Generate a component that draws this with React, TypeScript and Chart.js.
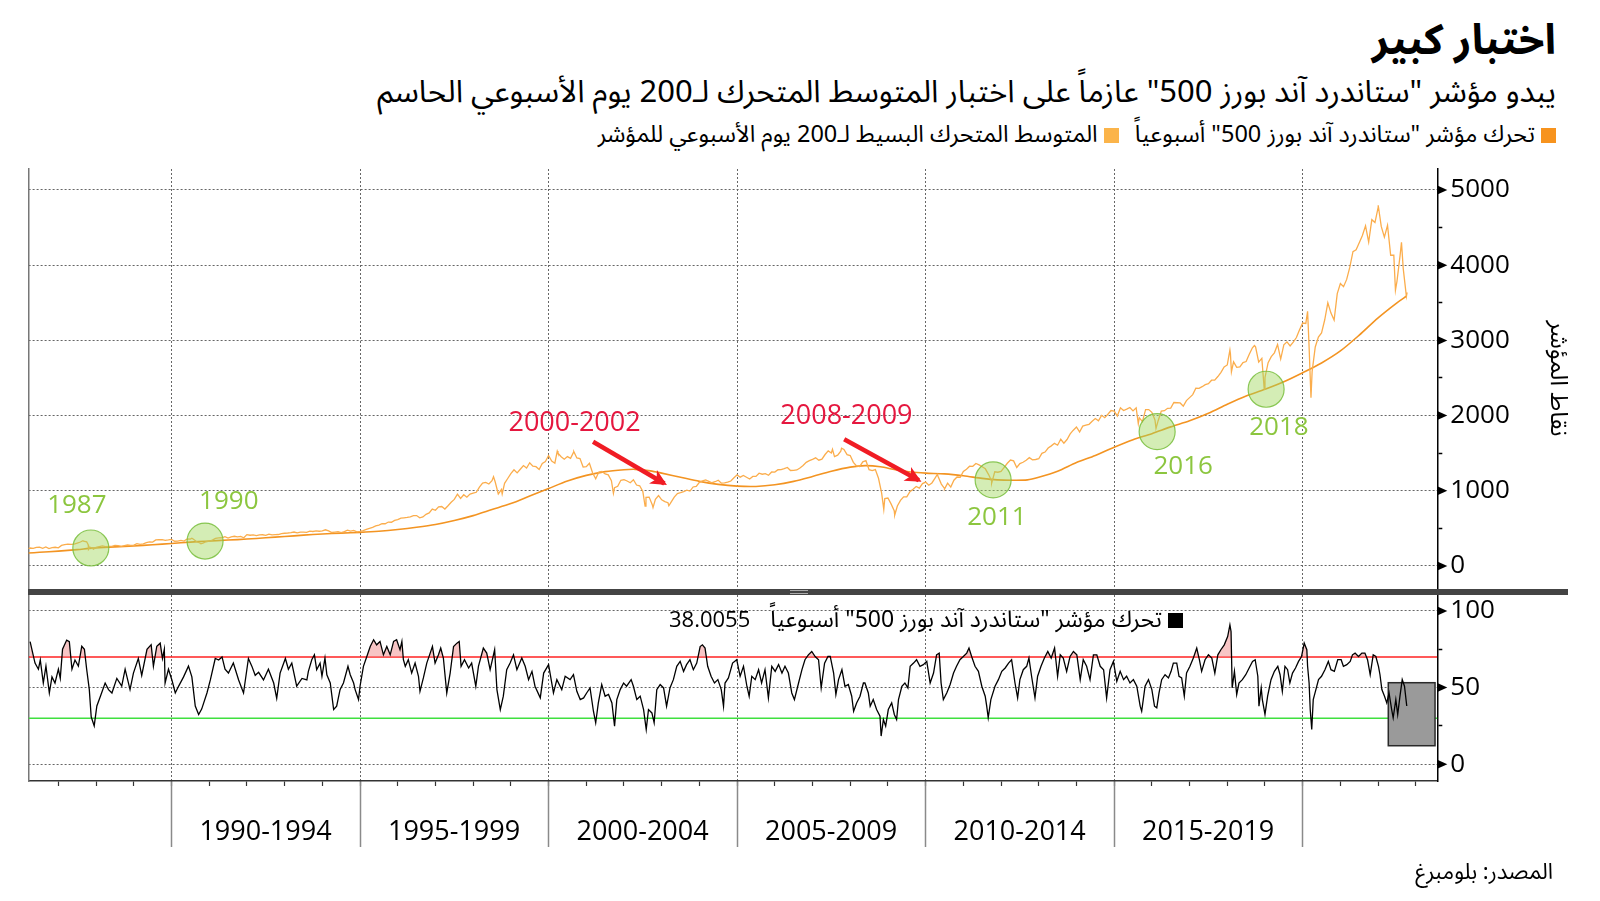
import React, { useEffect, useRef } from 'react';
import { Chart, registerables } from 'chart.js';

Chart.register(...registerables);

// ---------- axes ----------
const X_MIN = 1986.21;
const X_MAX = 2023.57;
const FIVE_YEAR_TICKS = [1990, 1995, 2000, 2005, 2010, 2015, 2020];
const YEAR_TICKS = [1987, 1988, 1989, 1990, 1991, 1992, 1993, 1994, 1995, 1996, 1997, 1998, 1999, 2000, 2001, 2002, 2003, 2004, 2005, 2006, 2007, 2008, 2009, 2010, 2011, 2012, 2013, 2014, 2015, 2016, 2017, 2018, 2019, 2020, 2021, 2022, 2023];
const PERIOD_LABELS = ['1990-1994', '1995-1999', '2000-2004', '2005-2009', '2010-2014', '2015-2019', ''];
const PRICE_TICKS = [0, 500, 1000, 1500, 2000, 2500, 3000, 3500, 4000, 4500, 5000];
const PRICE_LABELED = [0, 1000, 2000, 3000, 4000, 5000];
const PRICE_MIN = -292.6;
const PRICE_MAX = 5279;
const RSI_TICKS = [0, 25, 50, 75, 100];
const RSI_LABELED = [0, 50, 100];
const RSI_MIN = -10.9;
const RSI_MAX = 110.4;
const OVERBOUGHT = 70;
const OVERSOLD = 30;
const RSI_LAST = '38.0055';

// ---------- S&P 500 monthly closes ----------
const spx1980sStart = 1986 + 2 / 12; // end of Feb 1986
const spx1980s = [226.9, 238.9, 235.5, 247.4, 250.8, 236.1, 252.9, 231.3, 244.0, 249.2, 242.2,
  274.1, 284.2, 291.7, 288.4, 290.1, 304.0, 318.7, 329.8, 321.8, 251.8, 230.3, 247.1,
  257.1, 267.8, 258.9, 261.3, 262.2, 273.5, 272.0, 261.5, 271.9, 279.0, 273.7, 277.7,
  297.5, 288.9, 294.9, 309.6, 320.5, 318.0, 346.1, 351.5, 349.2, 340.4, 346.0, 353.4];
const spx1990sStart = 1990 + 1 / 12;
const spx1990s = [329.1, 331.9, 339.9, 330.8, 361.2, 358.0, 356.2, 322.6, 306.1, 304.0, 322.2, 330.2,
  343.9, 367.1, 375.2, 375.3, 389.8, 371.2, 387.8, 395.4, 387.9, 392.5, 375.2, 417.1,
  408.8, 412.7, 403.7, 415.0, 415.4, 408.1, 424.2, 414.0, 417.8, 418.7, 431.4, 435.7,
  438.8, 443.4, 451.7, 440.2, 450.2, 450.5, 448.1, 463.6, 458.9, 467.8, 461.8, 466.5,
  481.6, 467.1, 445.8, 450.9, 456.5, 444.3, 458.3, 475.5, 462.7, 472.4, 453.7, 459.3,
  470.4, 487.4, 500.7, 514.7, 533.4, 544.8, 562.1, 561.9, 584.4, 581.5, 605.4, 615.9,
  636.0, 640.4, 645.5, 654.2, 669.1, 670.6, 640.0, 652.0, 687.3, 705.3, 757.0, 740.7,
  786.2, 790.8, 757.1, 801.3, 848.3, 885.1, 954.3, 899.5, 947.3, 914.6, 955.4, 970.4,
  980.3, 1049.3, 1101.8, 1111.8, 1090.8, 1133.8, 1120.7, 957.3, 1017.0, 1098.7, 1163.6, 1229.2,
  1279.6, 1238.3, 1286.4, 1335.2, 1301.8, 1372.7, 1328.7, 1320.4, 1282.7, 1362.9, 1389.0, 1469.3];
const spx2000sStart = 2000 + 1 / 12;
const spx2000s = [1394.5, 1366.4, 1498.6, 1452.4, 1420.6, 1454.6, 1430.8, 1517.7, 1436.5, 1429.4, 1315.2, 1320.3,
  1366.0, 1239.9, 1160.3, 1249.5, 1255.8, 1224.4, 1211.2, 1133.6, 1040.9, 1059.8, 1139.5, 1148.1,
  1130.2, 1106.7, 1147.4, 1076.9, 1067.1, 989.8, 911.6, 916.1, 815.3, 885.8, 936.3, 879.8,
  855.7, 841.2, 848.2, 916.9, 963.6, 974.5, 990.3, 1008.0, 996.0, 1050.7, 1058.2, 1111.9,
  1131.1, 1144.9, 1126.2, 1107.3, 1120.7, 1140.8, 1101.7, 1104.2, 1114.6, 1130.2, 1173.8, 1211.9,
  1181.3, 1203.6, 1180.6, 1156.9, 1191.5, 1191.3, 1234.2, 1220.3, 1228.8, 1207.0, 1249.5, 1248.3,
  1280.1, 1280.7, 1294.9, 1310.6, 1270.1, 1270.2, 1276.7, 1303.8, 1335.9, 1377.9, 1400.6, 1418.3,
  1438.2, 1406.8, 1420.9, 1482.4, 1530.6, 1503.3, 1455.3, 1474.0, 1526.8, 1549.4, 1481.1, 1468.4,
  1378.6, 1330.6, 1322.7, 1385.6, 1400.4, 1280.0, 1267.4, 1282.8, 1166.4, 968.8, 896.2, 903.3,
  825.9, 735.1, 797.9, 872.8, 919.1, 919.3, 987.5, 1020.6, 1057.1, 1036.2, 1095.6, 1115.1];
const spx2010sStart = 2010 + 1 / 12;
const spx2010s = [1073.9, 1104.5, 1169.4, 1186.7, 1089.4, 1030.7, 1101.6, 1049.3, 1141.2, 1183.3, 1180.6, 1257.6,
  1286.1, 1327.2, 1325.8, 1363.6, 1345.2, 1320.6, 1292.3, 1218.9, 1131.4, 1253.3, 1246.9, 1257.6,
  1312.4, 1365.7, 1408.5, 1397.9, 1310.3, 1362.2, 1379.3, 1406.6, 1440.7, 1412.2, 1416.2, 1426.2,
  1498.1, 1514.7, 1569.2, 1597.6, 1630.7, 1606.3, 1685.7, 1633.0, 1681.6, 1756.5, 1805.8, 1848.4,
  1782.6, 1859.5, 1872.3, 1884.0, 1923.6, 1960.2, 1930.7, 2003.4, 1972.3, 2018.1, 2067.6, 2058.9,
  1995.0, 2104.5, 2067.9, 2085.5, 2107.4, 2063.1, 2103.8, 1972.2, 1920.0, 2079.4, 2080.4, 2043.9,
  1940.2, 1932.2, 2059.7, 2065.3, 2097.0, 2098.9, 2173.6, 2171.0, 2168.3, 2126.2, 2198.8, 2238.8,
  2278.9, 2363.6, 2362.7, 2384.2, 2411.8, 2423.4, 2470.3, 2471.7, 2519.4, 2575.3, 2647.6, 2673.6,
  2823.8, 2713.8, 2640.9, 2648.1, 2705.3, 2718.4, 2816.3, 2901.5, 2914.0, 2711.7, 2760.2, 2506.9,
  2704.1, 2784.5, 2834.4, 2945.8, 2752.1, 2941.8, 2980.4, 2926.5, 2976.7, 3037.6, 3141.0, 3230.8];
const spx2020sStart = 2020 + 1 / 12;
const spx2020s = [3225.5, 2954.2, 2584.6, 2912.4, 3044.3, 3100.3, 3271.1, 3500.3, 3363.0, 3270.0, 3621.6, 3756.1,
  3714.2, 3811.2, 3972.9, 4181.2, 4204.1, 4297.5, 4395.3, 4522.7, 4307.5, 4605.4, 4567.0, 4766.2,
  4515.6, 4373.9, 4530.4, 4131.9, 4132.2, 3785.4, 4130.3, 3955.0, 3585.6];
// weekly highs/lows between month ends [year, value]
const spxExtremes: [number, number][] = [[1987.65, 336.8], [1987.79, 282.7], [1987.80, 224.8], [1987.93, 223.9],
  [1990.54, 368.9], [1990.78, 295.5], [1998.54, 1186.8], [1998.77, 959.4], [2000.23, 1527.5], [2000.67, 1520.8],
  [2001.72, 965.8], [2002.56, 797.7], [2002.77, 776.8], [2003.19, 800.7], [2007.53, 1552.5], [2007.77, 1565.2],
  [2008.89, 752.4], [2009.18, 676.5], [2010.31, 1217.3], [2010.50, 1022.6], [2011.75, 1099.2], [2015.64, 1893.2],
  [2016.11, 1829.1], [2018.07, 2872.9], [2018.11, 2581.0], [2018.72, 2930.8], [2018.98, 2351.1], [2020.13, 3386.2],
  [2020.22, 2237.4], [2022.003, 4796.6], [2022.46, 3666.8], [2022.62, 4305.2], [2022.77, 3639.7]];

// ---------- 200-week moving average ----------
const maYears = [1986.2, 1986.5, 1987.0, 1987.5, 1987.9, 1988.5, 1989.0, 1989.5, 1990.0, 1990.5, 1990.9, 1991.5, 1992.0, 1992.5, 1993.0, 1993.5, 1994.0, 1994.5, 1995.0, 1995.5, 1996.0, 1996.5, 1997.0, 1997.5, 1998.0, 1998.5, 1999.0, 1999.5, 2000.0, 2000.5, 2001.0, 2001.5, 2002.0, 2002.3, 2002.7, 2003.0, 2003.5, 2004.0, 2004.5, 2005.0, 2005.5, 2006.0, 2006.5, 2007.0, 2007.5, 2008.0, 2008.4, 2008.8, 2009.2, 2009.6, 2010.0, 2010.5, 2011.0, 2011.5, 2011.9, 2012.3, 2012.7, 2013.0, 2013.5, 2014.0, 2014.5, 2015.0, 2015.5, 2016.0, 2016.5, 2017.0, 2017.5, 2018.0, 2018.5, 2019.0, 2019.5, 2020.0, 2020.5, 2021.0, 2021.5, 2022.0, 2022.5, 2022.76];
const maValues = [172, 182, 198, 218, 238, 254, 266, 282, 300, 318, 330, 345, 358, 375, 392, 410, 425, 437, 447, 462, 485, 515, 552, 605, 670, 750, 830, 930, 1030, 1130, 1205, 1255, 1280, 1285, 1265, 1235, 1180, 1125, 1085, 1062, 1058, 1080, 1125, 1190, 1260, 1315, 1335, 1320, 1280, 1250, 1235, 1225, 1200, 1165, 1145, 1140, 1145, 1180, 1260, 1375, 1470, 1580, 1680, 1760, 1850, 1930, 2030, 2150, 2260, 2350, 2450, 2570, 2700, 2860, 3070, 3300, 3500, 3590];

// ---------- tests of the average (green circles) ----------
const testYears = [1987.86, 1990.89, 2011.79, 2016.14, 2019.03];
const testValues = [239, 332, 1144, 1786, 2350];
const testLabels = ['1987', '1990', '2011', '2016', '2018'];

// ---------- weekly RSI [year, value] ----------
const rsi1986: [number, number][] = [[1986.25, 80], [1986.38, 66], [1986.47, 62], [1986.52, 68], [1986.60, 53], [1986.67, 64], [1986.76, 46.5], [1986.83, 57], [1986.91, 53], [1987.00, 62], [1987.05, 56], [1987.11, 75], [1987.22, 81], [1987.29, 80], [1987.36, 62], [1987.44, 68], [1987.53, 64], [1987.62, 77], [1987.69, 75], [1987.75, 62], [1987.82, 48.7], [1987.87, 31], [1987.95, 25], [1988.02, 38], [1988.11, 44], [1988.24, 53], [1988.33, 48.7], [1988.42, 46.5], [1988.55, 56], [1988.68, 51], [1988.77, 62], [1988.90, 48.7], [1988.99, 59.5], [1989.12, 69], [1989.21, 58], [1989.35, 75], [1989.46, 78], [1989.52, 64], [1989.61, 77], [1989.70, 79], [1989.76, 69], [1989.81, 75], [1989.83, 53], [1989.92, 62], [1990.01, 55], [1990.10, 46.5], [1990.19, 51], [1990.32, 57], [1990.45, 64], [1990.54, 57], [1990.63, 38], [1990.72, 32.5], [1990.80, 36], [1990.94, 46.5], [1991.03, 55], [1991.16, 69], [1991.25, 68], [1991.34, 70], [1991.42, 62], [1991.51, 59.5], [1991.64, 66], [1991.78, 55], [1991.91, 46.5], [1992.04, 69], [1992.13, 64], [1992.22, 58], [1992.31, 60], [1992.44, 55], [1992.57, 62], [1992.71, 53], [1992.79, 43], [1992.88, 59.5], [1993.02, 69], [1993.10, 62], [1993.19, 66], [1993.32, 51], [1993.46, 56], [1993.59, 55]];
const rsi1993: [number, number][] = [[1993.63, 60.6], [1993.72, 68.2], [1993.79, 71.4], [1993.85, 61.7], [1993.94, 66], [1993.99, 57.4], [1994.07, 69.3], [1994.12, 58.4], [1994.21, 53], [1994.30, 35.7], [1994.38, 37.9], [1994.47, 48.7], [1994.56, 53], [1994.68, 63.9], [1994.74, 58.4], [1994.83, 53], [1994.87, 48.7], [1994.96, 42.2], [1995.00, 50.9], [1995.09, 63.9], [1995.18, 70.3], [1995.27, 76.8], [1995.36, 81.2], [1995.44, 77.9], [1995.53, 80.1], [1995.62, 71.4], [1995.71, 76.8], [1995.80, 71.4], [1995.89, 80.1], [1995.97, 81.2], [1996.06, 74.7], [1996.11, 80.1], [1996.15, 68.2], [1996.20, 63.9], [1996.28, 68.2], [1996.37, 59.5], [1996.46, 66], [1996.55, 57.4], [1996.59, 47.6], [1996.68, 56.3], [1996.77, 66], [1996.86, 72.5], [1996.92, 76.8], [1996.99, 66], [1997.08, 71.4], [1997.14, 75.8], [1997.21, 69.3], [1997.30, 46.5], [1997.39, 59.5], [1997.48, 76.8], [1997.57, 79], [1997.63, 80.1], [1997.68, 63.9], [1997.77, 68.2], [1997.88, 62.8], [1997.96, 66], [1998.07, 50.9], [1998.14, 63.9], [1998.27, 75.8], [1998.36, 72.5], [1998.45, 61.7], [1998.57, 74.7], [1998.63, 48.7], [1998.72, 35.7], [1998.80, 44.4], [1998.89, 61.7], [1998.98, 66], [1999.07, 71.4], [1999.16, 61.7], [1999.29, 69.3], [1999.38, 63.9], [1999.47, 55.2], [1999.56, 60.6], [1999.64, 50.9], [1999.78, 43.3], [1999.87, 59.5], [2000.00, 65], [2000.13, 46.5], [2000.22, 55.2], [2000.35, 48.7], [2000.44, 57.4], [2000.57, 55.2], [2000.66, 58.4], [2000.75, 47.6], [2000.84, 42.2], [2000.93, 43.3]];
const rsi2001: [number, number][] = [[2001.01, 46.5], [2001.10, 49.8], [2001.19, 34.6], [2001.25, 27.1], [2001.32, 40], [2001.41, 52], [2001.50, 44.4], [2001.59, 45.5], [2001.68, 40], [2001.75, 24.9], [2001.81, 42.2], [2001.90, 48.7], [2001.99, 53], [2002.07, 50.9], [2002.19, 55.2], [2002.25, 50.9], [2002.34, 42.2], [2002.43, 44.4], [2002.52, 35.7], [2002.59, 22.7], [2002.65, 35.7], [2002.74, 33.5], [2002.80, 27.1], [2002.87, 48.7], [2002.96, 52], [2003.05, 49.8], [2003.13, 37.9], [2003.22, 49.8], [2003.31, 55.2], [2003.40, 63.9], [2003.49, 67.1], [2003.58, 60.6], [2003.66, 65], [2003.75, 68.2], [2003.84, 61.7], [2003.93, 66], [2004.02, 76.8], [2004.08, 77.9], [2004.15, 75.8], [2004.22, 63.9], [2004.31, 57.4], [2004.40, 53], [2004.49, 55.2], [2004.58, 48.7], [2004.64, 37.9], [2004.68, 53], [2004.77, 56.3], [2004.88, 66], [2004.99, 68.2], [2005.08, 57.4], [2005.17, 63.9], [2005.26, 50.9], [2005.32, 44.4], [2005.39, 57.4], [2005.48, 55.2], [2005.57, 61.7], [2005.65, 53], [2005.74, 61.7], [2005.83, 43.3], [2005.92, 63.9], [2006.01, 60.6], [2006.10, 65], [2006.19, 59.5], [2006.27, 63.9], [2006.36, 59.5], [2006.45, 46.5], [2006.52, 42.2], [2006.63, 53], [2006.72, 61.7], [2006.80, 68.2], [2006.89, 71.4], [2006.98, 73.6], [2007.07, 70.3], [2007.16, 68.2], [2007.23, 49.8], [2007.32, 66], [2007.41, 70.3], [2007.47, 70.3], [2007.56, 59.5], [2007.62, 45.5], [2007.69, 55.2], [2007.78, 61.7], [2007.86, 50.9], [2007.95, 52], [2008.04, 44.4], [2008.09, 34.6], [2008.17, 40], [2008.26, 44.4], [2008.35, 53]];
const rsi2008: [number, number][] = [[2008.39, 53], [2008.48, 46.5], [2008.53, 37.9], [2008.61, 42.2], [2008.70, 35.7], [2008.79, 31.4], [2008.82, 18.4], [2008.88, 29.2], [2008.94, 24.9], [2009.01, 35.7], [2009.10, 40], [2009.17, 32.5], [2009.23, 29.2], [2009.28, 42.2], [2009.37, 50.9], [2009.45, 53], [2009.53, 49.8], [2009.59, 63.9], [2009.68, 66], [2009.76, 68.2], [2009.85, 63.9], [2009.94, 65], [2010.03, 67.1], [2010.12, 53], [2010.21, 59.5], [2010.29, 71.4], [2010.36, 72.5], [2010.41, 53], [2010.47, 42.2], [2010.56, 46.5], [2010.65, 52], [2010.74, 59.5], [2010.82, 63.9], [2010.91, 68.2], [2011.00, 70.3], [2011.09, 72.5], [2011.15, 75.8], [2011.22, 70.3], [2011.31, 63.9], [2011.40, 60.6], [2011.49, 50.9], [2011.58, 44.4], [2011.62, 37.9], [2011.66, 30.3], [2011.73, 42.2], [2011.84, 50.9], [2011.93, 55.2], [2012.02, 60.6], [2012.11, 62.8], [2012.20, 66], [2012.28, 68.2], [2012.37, 53], [2012.44, 43.3], [2012.50, 55.2], [2012.59, 61.7], [2012.68, 63.9], [2012.74, 69.3], [2012.81, 57.4], [2012.90, 43.3], [2012.97, 57.4], [2013.06, 63.9], [2013.15, 69.3], [2013.24, 73.6], [2013.33, 69.3], [2013.42, 75.8], [2013.50, 57.4], [2013.57, 71.4], [2013.65, 69.3], [2013.74, 60.6], [2013.83, 70.3], [2013.92, 73.6], [2014.01, 71.4], [2014.10, 55.2], [2014.18, 68.2], [2014.27, 63.9], [2014.36, 55.2], [2014.45, 71.4], [2014.54, 71.4], [2014.63, 63.9], [2014.72, 61.7], [2014.80, 43.3], [2014.89, 61.7], [2014.98, 67.1], [2015.07, 54.1], [2015.16, 60.6], [2015.25, 55.2], [2015.33, 57.4], [2015.42, 53], [2015.51, 55.2], [2015.60, 50.9], [2015.69, 37.9], [2015.73, 34.6], [2015.82, 50.9]];
const rsi2015: [number, number][] = [[2015.91, 55.2], [2016.00, 48.7], [2016.07, 37.9], [2016.13, 36.8], [2016.19, 46.5], [2016.26, 55.2], [2016.35, 58.4], [2016.44, 56.3], [2016.51, 60.6], [2016.57, 66], [2016.66, 66], [2016.72, 57.4], [2016.79, 56.3], [2016.86, 44.4], [2016.92, 59.5], [2017.01, 63.9], [2017.10, 69.3], [2017.19, 75.8], [2017.26, 68.2], [2017.32, 60.6], [2017.41, 68.2], [2017.50, 71.4], [2017.59, 69.3], [2017.67, 59.5], [2017.75, 71.4], [2017.83, 74.7], [2017.92, 77.9], [2018.01, 83.3], [2018.07, 90.9], [2018.10, 86.6], [2018.13, 49.8], [2018.19, 60.6], [2018.25, 45.5], [2018.31, 53], [2018.40, 55.2], [2018.49, 58.4], [2018.58, 62.8], [2018.67, 67.1], [2018.74, 68.2], [2018.81, 57.4], [2018.84, 37.9], [2018.90, 49.8], [2018.93, 42.2], [2019.00, 32.5], [2019.07, 44.4], [2019.16, 55.2], [2019.25, 60.6], [2019.34, 63.9], [2019.40, 58.4], [2019.46, 47.6], [2019.53, 63.9], [2019.60, 61.7], [2019.66, 53], [2019.73, 59.5], [2019.81, 62.8], [2019.89, 67.1], [2019.97, 70.3], [2020.04, 79], [2020.11, 74.7], [2020.13, 63.9], [2020.17, 53], [2020.20, 35.7], [2020.24, 22.7], [2020.28, 42.2], [2020.35, 48.7], [2020.42, 55.2], [2020.50, 57.4], [2020.59, 61.7], [2020.68, 67.1], [2020.75, 61.7], [2020.84, 60.6], [2020.93, 68.2], [2021.02, 68.2], [2021.08, 63.9], [2021.17, 65], [2021.26, 67.1], [2021.32, 71.4], [2021.39, 72.5], [2021.48, 70.3], [2021.57, 72.5], [2021.65, 72.5], [2021.72, 68.2], [2021.79, 58.4], [2021.87, 71.4], [2021.94, 70.3], [2022.01, 63.9], [2022.05, 58.4], [2022.10, 48.7], [2022.17, 44.4], [2022.23, 40], [2022.29, 46.5], [2022.36, 35.7], [2022.40, 30.3], [2022.47, 42.2], [2022.52, 32.5], [2022.58, 44.4], [2022.64, 55.2], [2022.70, 50.9], [2022.76, 38.0]];

// grey highlight box in RSI panel (years, RSI values)
const boxYears = [2022.27, 2023.51];
const boxValues = [12.1, 53.2];

// ---------- annotations (data coordinates) ----------
const yearLabelPos: [number, number][] = [[1987.49, 800], [1991.52, 855], [2011.89, 645], [2016.83, 1320], [2019.37, 1842]];
const periodNotes = [
  { text: '2000-2002', at: [2000.69, 1895], from: [2001.18, 1653], to: [2003.14, 1077] },
  { text: '2008-2009', at: [2007.90, 1985], from: [2007.84, 1685], to: [2009.89, 1121] },
];

const monthly = (start: number, vals: number[]) => vals.map((v, i) => ({ x: start + i / 12, y: v }));
const pairs = (arr: [number, number][]) => arr.map(([x, y]) => ({ x, y }));

const FONT_NUM = '"Open Sans", "DejaVu Sans", sans-serif';
const FONT_AR = '"Noto Sans Arabic", "DejaVu Sans", sans-serif';

const tickArrows = {
  id: 'tickArrows',
  afterDraw(chart: any, _a: any, opts: any) {
    const s = chart.scales.y;
    const ctx = chart.ctx;
    ctx.save();
    ctx.fillStyle = '#000';
    for (const v of opts.values || []) {
      const py = s.getPixelForValue(v);
      ctx.beginPath();
      ctx.moveTo(s.left, py - 4.5);
      ctx.lineTo(s.left + 10, py);
      ctx.lineTo(s.left, py + 4.5);
      ctx.closePath();
      ctx.fill();
    }
    ctx.restore();
  },
};

const notesPlugin = {
  id: 'notes',
  afterDatasetsDraw(chart: any) {
    const { ctx } = chart;
    const x = chart.scales.x;
    const y = chart.scales.y;
    ctx.save();
    ctx.textAlign = 'center';
    ctx.textBaseline = 'middle';
    ctx.font = `26px ${FONT_NUM}`;
    ctx.fillStyle = '#8cc63f';
    testLabels.forEach((t, i) => {
      ctx.fillText(t, x.getPixelForValue(yearLabelPos[i][0]), y.getPixelForValue(yearLabelPos[i][1]));
    });
    ctx.font = `27px ${FONT_NUM}`;
    for (const n of periodNotes) {
      ctx.fillStyle = '#e5173f';
      ctx.fillText(n.text, x.getPixelForValue(n.at[0]), y.getPixelForValue(n.at[1]));
      const x1 = x.getPixelForValue(n.from[0]);
      const y1 = y.getPixelForValue(n.from[1]);
      const x2 = x.getPixelForValue(n.to[0]);
      const y2 = y.getPixelForValue(n.to[1]);
      const ang = Math.atan2(y2 - y1, x2 - x1);
      ctx.strokeStyle = '#f01c24';
      ctx.lineWidth = 4.5;
      ctx.lineCap = 'butt';
      ctx.beginPath();
      ctx.moveTo(x1, y1);
      ctx.lineTo(x2 - 3 * Math.cos(ang), y2 - 3 * Math.sin(ang));
      ctx.stroke();
      ctx.fillStyle = '#f01c24';
      ctx.beginPath();
      ctx.moveTo(x2, y2);
      ctx.lineTo(x2 - 18 * Math.cos(ang - 0.45), y2 - 18 * Math.sin(ang - 0.45));
      ctx.lineTo(x2 - 12 * Math.cos(ang), y2 - 12 * Math.sin(ang));
      ctx.lineTo(x2 - 18 * Math.cos(ang + 0.45), y2 - 18 * Math.sin(ang + 0.45));
      ctx.closePath();
      ctx.fill();
    }
    ctx.restore();
  },
};

const boxPlugin = {
  id: 'highlightBox',
  beforeDatasetDraw(chart: any, args: any) {
    if (args.index !== 0) return;
    const { ctx } = chart;
    const x = chart.scales.x;
    const y = chart.scales.y;
    const l = x.getPixelForValue(boxYears[0]);
    const r = x.getPixelForValue(boxYears[1]);
    const t = y.getPixelForValue(boxValues[1]);
    const b = y.getPixelForValue(boxValues[0]);
    ctx.save();
    ctx.fillStyle = '#9a9a9a';
    ctx.fillRect(l, t, r - l, b - t);
    ctx.strokeStyle = '#2a2a2a';
    ctx.lineWidth = 1.5;
    ctx.strokeRect(l, t, r - l, b - t);
    ctx.restore();
  },
};

const noPad = (s: any) => { s.paddingTop = 0; s.paddingBottom = 0; s.paddingLeft = 0; s.paddingRight = 0; };
const DOT = [2, 2];

function rightAxis(ticks: number[], labeled: number[], min: number, max: number, title?: string) {
  return {
    position: 'right',
    min, max,
    afterBuildTicks: (s: any) => { s.ticks = ticks.map((v) => ({ value: v })); },
    ticks: {
      callback: (v: any) => (labeled.includes(v) ? String(v) : ''),
      font: { family: FONT_NUM, size: 26 },
      color: '#000',
      padding: 8,
    },
    grid: {
      color: (c: any) => (c.tick && labeled.includes(c.tick.value) ? '#666' : 'rgba(0,0,0,0)'),
      tickColor: '#000',
      tickLength: 5,
      tickWidth: 1.5,
      lineWidth: 1,
      borderDash: DOT,
    },
    border: { display: true, color: '#000', width: 1.5, dash: DOT },
    title: title
      ? { display: true, text: title, font: { family: FONT_AR, size: 24 }, color: '#000' }
      : { display: false },
    afterFit: (s: any) => { s.width = 136; noPad(s); },
  };
}

const leftAxis = {
  position: 'left',
  afterFit: (s: any) => { s.width = 0; noPad(s); },
  ticks: { display: false },
  grid: { display: false },
  border: { display: true, color: '#777', width: 1.5 },
};

const AX = { xAxisID: 'x', yAxisID: 'y' };

function TopChart() {
  const ref = useRef<HTMLCanvasElement>(null);
  useEffect(() => {
    const spx = [
      ...monthly(spx1980sStart, spx1980s),
      ...monthly(spx1990sStart, spx1990s),
      ...monthly(spx2000sStart, spx2000s),
      ...monthly(spx2010sStart, spx2010s),
      ...monthly(spx2020sStart, spx2020s),
      ...pairs(spxExtremes),
    ].sort((a, b) => a.x - b.x);
    const ma = maYears.map((x, i) => ({ x, y: maValues[i] }));
    const circles = testYears.map((x, i) => ({ x, y: testValues[i] }));
    const chart = new Chart(ref.current!, {
      type: 'line',
      data: {
        datasets: [
          { ...AX, data: circles, showLine: false, pointRadius: 18, pointHoverRadius: 18, pointBackgroundColor: 'rgba(160,215,90,0.45)', pointBorderColor: 'rgba(120,190,60,0.85)', pointBorderWidth: 1.2, order: 0 } as any,
          { ...AX, data: spx, borderColor: '#fbad4c', borderWidth: 1.3, pointRadius: 0, tension: 0, order: 1 },
          { ...AX, data: ma, borderColor: '#f39422', borderWidth: 1.6, pointRadius: 0, tension: 0.3, order: 2 },
        ],
      },
      options: {
        animation: false,
        responsive: false,
        events: [],
        layout: { autoPadding: false, padding: { left: 28.6, right: 26.7, top: 19, bottom: 12 } },
        plugins: { legend: { display: false }, tooltip: { enabled: false }, tickArrows: { values: PRICE_LABELED } } as any,
        scales: {
          x: {
            type: 'linear', min: X_MIN, max: X_MAX, position: 'bottom',
            afterBuildTicks: (s: any) => { s.ticks = FIVE_YEAR_TICKS.map((v) => ({ value: v })); },
            ticks: { display: false },
            grid: { color: '#666', lineWidth: 1, drawTicks: false, borderDash: DOT },
            border: { display: false, dash: DOT },
            afterFit: (s: any) => { s.height = 0; noPad(s); },
          },
          y: rightAxis(PRICE_TICKS, PRICE_LABELED, PRICE_MIN, PRICE_MAX, 'نقاط المؤشر'),
          yL: leftAxis,
        } as any,
      },
      plugins: [tickArrows, notesPlugin],
    });
    return () => chart.destroy();
  }, []);
  return <canvas ref={ref} width={1600} height={450} style={{ position: 'absolute', left: 0, top: 150, width: 1600, height: 450 }} />;
}

function RsiChart() {
  const ref = useRef<HTMLCanvasElement>(null);
  useEffect(() => {
    const rsi = [...pairs(rsi1986), ...pairs(rsi1993), ...pairs(rsi2001), ...pairs(rsi2008), ...pairs(rsi2015)];
    const chart = new Chart(ref.current!, {
      type: 'line',
      data: {
        datasets: [
          {
            ...AX, data: rsi, borderColor: '#000', borderWidth: 1.3, pointRadius: 0, tension: 0, order: 0,
            fill: { target: { value: OVERBOUGHT }, above: 'rgba(240,140,140,0.5)', below: 'rgba(0,0,0,0)' },
          } as any,
          { ...AX, data: [{ x: X_MIN, y: OVERBOUGHT }, { x: X_MAX, y: OVERBOUGHT }], borderColor: '#f22', borderWidth: 1.5, pointRadius: 0, order: 1 },
          { ...AX, data: [{ x: X_MIN, y: OVERSOLD }, { x: X_MAX, y: OVERSOLD }], borderColor: '#3fe03f', borderWidth: 1.5, pointRadius: 0, order: 1 },
        ],
      },
      options: {
        animation: false,
        responsive: false,
        events: [],
        layout: { autoPadding: false, padding: { left: 28.6, right: 26.7, top: 5, bottom: 50 } },
        plugins: { legend: { display: false }, tooltip: { enabled: false }, tickArrows: { values: RSI_LABELED } } as any,
        scales: {
          x: {
            type: 'linear', min: X_MIN, max: X_MAX, position: 'bottom', weight: 0,
            afterBuildTicks: (s: any) => { s.ticks = YEAR_TICKS.map((v) => ({ value: v })); },
            ticks: { display: false },
            grid: {
              color: (c: any) => (c.tick && c.tick.value % 5 === 0 ? '#666' : 'rgba(0,0,0,0)'),
              lineWidth: 1, drawTicks: true, tickLength: 5, tickColor: '#333', tickWidth: 1.2, borderDash: DOT,
            },
            border: { display: true, color: '#333', width: 1.5, dash: DOT },
            afterFit: (s: any) => { s.height = 0; noPad(s); },
          },
          xSep: {
            type: 'linear', min: X_MIN, max: X_MAX, position: 'bottom', weight: 1,
            afterBuildTicks: (s: any) => { s.ticks = FIVE_YEAR_TICKS.map((v) => ({ value: v })); },
            ticks: {
              autoSkip: false, maxRotation: 0,
              callback: (v: any) => PERIOD_LABELS[FIVE_YEAR_TICKS.indexOf(v)] || '',
              labelOffset: 94, padding: -31,
              font: { family: FONT_NUM, size: 27 }, color: '#000',
            },
            grid: { drawOnChartArea: false, tickLength: 66, tickColor: '#8a8a8a', tickWidth: 1.5, color: 'rgba(0,0,0,0)' },
            border: { display: false },
            afterFit: (s: any) => { s.height = 70; noPad(s); },
          },
          y: rightAxis(RSI_TICKS, RSI_LABELED, RSI_MIN, RSI_MAX),
          yL: leftAxis,
        } as any,
      },
      plugins: [tickArrows, boxPlugin],
    });
    return () => chart.destroy();
  }, []);
  return <canvas ref={ref} width={1600} height={311} style={{ position: 'absolute', left: 0, top: 590, width: 1600, height: 311 }} />;
}

const txt = (extra: React.CSSProperties): React.CSSProperties => ({
  position: 'absolute', direction: 'rtl', whiteSpace: 'nowrap', fontFamily: FONT_AR, color: '#000', lineHeight: 1, ...extra,
});
const sq = (c: string, s: number): React.CSSProperties => ({ display: 'inline-block', width: s, height: s, background: c, margin: '0 0 0 6px', verticalAlign: 'middle' });

export default function App() {
  return (
    <div style={{ position: 'absolute', left: 0, top: 0, width: 1600, height: 901, background: '#fff', overflow: 'hidden' }}>
      <div style={txt({ right: 44, top: 20, fontSize: 42, fontWeight: 'bold' })}>اختبار كبير</div>
      <div style={txt({ right: 44, top: 77, fontSize: 31 })}>يبدو مؤشر "ستاندرد آند بورز 500" عازماً على اختبار المتوسط المتحرك  لـ200 يوم الأسبوعي الحاسم</div>
      <div style={txt({ right: 44, top: 123, fontSize: 23.5 })}>
        <span style={sq('#f7931e', 15)} />
        <span>تحرك مؤشر "ستاندرد آند بورز 500" أسبوعياً</span>
        <span style={{ display: 'inline-block', width: 16 }} />
        <span style={sq('#fbb44a', 15)} />
        <span>المتوسط المتحرك البسيط لـ200 يوم الأسبوعي للمؤشر</span>
      </div>
      <TopChart />
      <RsiChart />
      <div style={{ position: 'absolute', left: 28, top: 589, width: 1540, height: 6, background: '#444' }} />
      <div style={{ position: 'absolute', left: 790, top: 590, width: 18, height: 2, borderTop: '1px solid #aaa', borderBottom: '1px solid #aaa' }} />
      <div style={txt({ right: 1600 - 1183, top: 607, fontSize: 23 })}>
        <span style={sq('#000', 15)} />
        <span>تحرك مؤشر "ستاندرد آند بورز 500" أسبوعياً</span>
        <span style={{ display: 'inline-block', width: 20 }} />
        <span style={{ fontFamily: FONT_NUM, fontSize: 22 }}>{RSI_LAST}</span>
      </div>
      <div style={txt({ right: 47, top: 861, fontSize: 22 })}>المصدر: بلومبرغ</div>
    </div>
  );
}
